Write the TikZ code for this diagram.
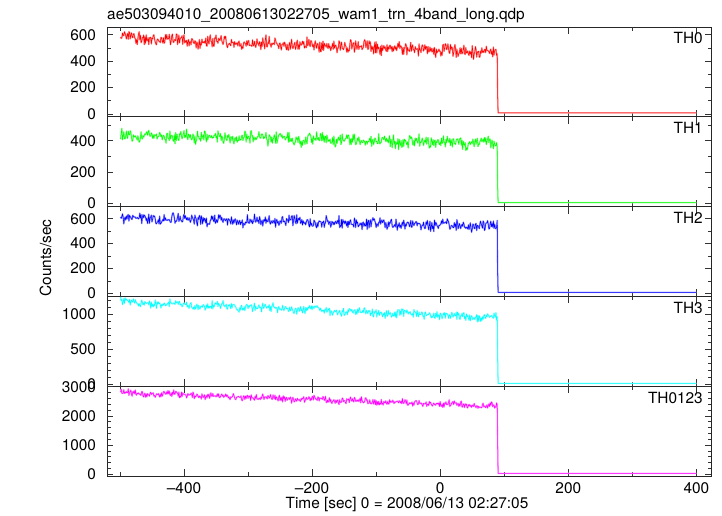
\documentclass[tikz,border=0pt]{standalone}
\usepackage{fontspec}
\setmainfont{TeX Gyre Heros}
\definecolor{threda}{RGB}{255,0,0}
\definecolor{thgreen}{RGB}{0,255,0}
\definecolor{thblue}{RGB}{0,0,255}
\definecolor{thcyan}{RGB}{0,255,255}
\definecolor{thmagenta}{RGB}{255,0,255}

\begin{document}
\begin{tikzpicture}[x=1pt,y=1pt]
    \tikzstyle{frame}=[line width=0.9pt, draw=black!85]
    \tikzstyle{tickmark}=[line width=0.7pt, draw=black!80]
    \tikzstyle{lbl}=[font=\fontsize{15.4}{18}\selectfont, inner sep=0pt]
    \tikzstyle{curve}=[line width=0.5pt, line join=round]
    \tikzstyle{halo}=[line width=1.6pt, line join=round]
    \useasboundingbox (0,0) rectangle (722,516);

    % frames and time ticks
    \foreach \top in {489,399.2,309.4,219.6,129.8} {
      \draw[frame] (107,\top) rectangle (711,\top-89.8);
      \foreach \t in {-500,-300,...,300} {
        \draw[tickmark] (440.2+0.6405*\t,\top) -- ++(0,-4);
        \draw[tickmark] (440.2+0.6405*\t,\top-89.8) -- ++(0,4);
      }
      \foreach \t in {-400,-200,...,400} {
        \draw[tickmark] (440.2+0.6405*\t,\top) -- ++(0,-7);
        \draw[tickmark] (440.2+0.6405*\t,\top-89.8) -- ++(0,7);
      }
    }

    \node[lbl, anchor=base west] (title) at (107,496) {ae503094010\_20080613022705\_wam1\_trn\_4band\_long.qdp};
    \node[lbl, anchor=base] (xlab) at (407,7) {Time [sec] 0 = 2008/06/13 02:27:05};
    \node[lbl, rotate=90, anchor=base] (ylab) at (51,258) {Counts/sec};
    \foreach \t/\s in {-400/{--400},-200/{--200},0/0,200/200,400/400}
      \node[lbl, anchor=base] (x\t) at (440.2+0.6405*\t,22.7) {\s};

    % TH0
    \begin{scope}[shift={(440.2pt,402pt)}, x=0.6405pt, y=0.1322pt]
      \foreach \v in {100,300,500} {
        \draw[tickmark] (-520.2,\v) -- ++(3.5pt,0pt);
        \draw[tickmark] (422.8,\v) -- ++(-3.5pt,0pt);
      }
      \foreach \v in {0,200,400,600} {
        \draw[tickmark] (-520.2,\v) -- ++(6pt,0pt);
        \draw[tickmark] (422.8,\v) -- ++(-6pt,0pt);
        \node[lbl, anchor=east] (a\v) at (-537,\v) {\v};
      }
      \pgfmathsetseed{11}
      \draw[halo, threda!35] plot[domain=-499:89, samples=589] (\x,{575-0.187*(\x+499)+30*(rand+rand)+10*sin(5*\x)}) -- (89.6,160) -- (90.4,8) -- (400,8);
      \pgfmathsetseed{11}
      \draw[curve, threda] plot[domain=-499:89, samples=589] (\x,{575-0.187*(\x+499)+30*(rand+rand)+10*sin(5*\x)}) -- (89.6,160) -- (90.4,8) -- (400,8);
    \end{scope}
    \node[lbl, anchor=north east] (th0) at (703,483.5) {TH0};

    % TH1
    \begin{scope}[shift={(440.2pt,312.5pt)}, x=0.6405pt, y=0.157pt]
      \foreach \v in {100,300,500} {
        \draw[tickmark] (-520.2,\v) -- ++(3.5pt,0pt);
        \draw[tickmark] (422.8,\v) -- ++(-3.5pt,0pt);
      }
      \foreach \v in {0,200,400} {
        \draw[tickmark] (-520.2,\v) -- ++(6pt,0pt);
        \draw[tickmark] (422.8,\v) -- ++(-6pt,0pt);
        \node[lbl, anchor=east] (b\v) at (-537,\v) {\v};
      }
      \pgfmathsetseed{23}
      \draw[halo, thgreen!35] plot[domain=-499:89, samples=589] (\x,{435-0.0935*(\x+499)+24*(rand+rand)+8*sin(7*\x)}) -- (89.6,120) -- (90.4,6) -- (400,6);
      \pgfmathsetseed{23}
      \draw[curve, thgreen] plot[domain=-499:89, samples=589] (\x,{435-0.0935*(\x+499)+24*(rand+rand)+8*sin(7*\x)}) -- (89.6,120) -- (90.4,6) -- (400,6);
    \end{scope}
    \node[lbl, anchor=north east] (th1) at (703,393.7) {TH1};

    % TH2
    \begin{scope}[shift={(440.2pt,222.7pt)}, x=0.6405pt, y=0.1243pt]
      \foreach \v in {100,300,500} {
        \draw[tickmark] (-520.2,\v) -- ++(3.5pt,0pt);
        \draw[tickmark] (422.8,\v) -- ++(-3.5pt,0pt);
      }
      \foreach \v in {0,200,400,600} {
        \draw[tickmark] (-520.2,\v) -- ++(6pt,0pt);
        \draw[tickmark] (422.8,\v) -- ++(-6pt,0pt);
        \node[lbl, anchor=east] (c\v) at (-537,\v) {\v};
      }
      \pgfmathsetseed{37}
      \draw[halo, thblue!35] plot[domain=-499:89, samples=589] (\x,{605-0.11*(\x+499)+28*(rand+rand)+10*sin(6*\x)}) -- (89.6,200) -- (90.4,8) -- (400,8);
      \pgfmathsetseed{37}
      \draw[curve, thblue] plot[domain=-499:89, samples=589] (\x,{605-0.11*(\x+499)+28*(rand+rand)+10*sin(6*\x)}) -- (89.6,200) -- (90.4,8) -- (400,8);
    \end{scope}
    \node[lbl, anchor=north east] (th2) at (703,303.9) {TH2};

    % TH3
    \begin{scope}[shift={(440.2pt,131.5pt)}, x=0.6405pt, y=0.0703pt]
      \foreach \v in {100,200,300,400,600,700,800,900,1100,1200} {
        \draw[tickmark] (-520.2,\v) -- ++(3.5pt,0pt);
        \draw[tickmark] (422.8,\v) -- ++(-3.5pt,0pt);
      }
      \foreach \v in {0,500,1000} {
        \draw[tickmark] (-520.2,\v) -- ++(6pt,0pt);
        \draw[tickmark] (422.8,\v) -- ++(-6pt,0pt);
        \node[lbl, anchor=east] (d\v) at (-537,\v) {\v};
      }
      \pgfmathsetseed{41}
      \draw[halo, thcyan!35] plot[domain=-499:89, samples=589] (\x,{1175-0.383*(\x+499)+36*(rand+rand)+15*sin(5*\x)}) -- (89.6,450) -- (90.4,15) -- (400,15);
      \pgfmathsetseed{41}
      \draw[curve, thcyan] plot[domain=-499:89, samples=589] (\x,{1175-0.383*(\x+499)+36*(rand+rand)+15*sin(5*\x)}) -- (89.6,450) -- (90.4,15) -- (400,15);
    \end{scope}
    \node[lbl, anchor=north east] (th3) at (703,214.1) {TH3};

    % TH0123
    \begin{scope}[shift={(440.2pt,41.7pt)}, x=0.6405pt, y=0.0292pt]
      \foreach \v in {200,400,...,800,1200,1400,...,1800,2200,2400,...,2800} {
        \draw[tickmark] (-520.2,\v) -- ++(3.5pt,0pt);
        \draw[tickmark] (422.8,\v) -- ++(-3.5pt,0pt);
      }
      \foreach \v in {0,1000,2000,3000} {
        \draw[tickmark] (-520.2,\v) -- ++(6pt,0pt);
        \draw[tickmark] (422.8,\v) -- ++(-6pt,0pt);
        \node[lbl, anchor=east] (e\v) at (-537,\v) {\v};
      }
      \pgfmathsetseed{53}
      \draw[halo, thmagenta!35] plot[domain=-499:89, samples=589] (\x,{2785-0.748*(\x+499)+70*(rand+rand)+30*sin(5*\x)}) -- (89.6,1200) -- (90.4,30) -- (400,30);
      \pgfmathsetseed{53}
      \draw[curve, thmagenta] plot[domain=-499:89, samples=589] (\x,{2785-0.748*(\x+499)+70*(rand+rand)+30*sin(5*\x)}) -- (89.6,1200) -- (90.4,30) -- (400,30);
    \end{scope}
    \node[lbl, anchor=north east] (th0123) at (703,124.3) {TH0123};
\end{tikzpicture}
\end{document}
